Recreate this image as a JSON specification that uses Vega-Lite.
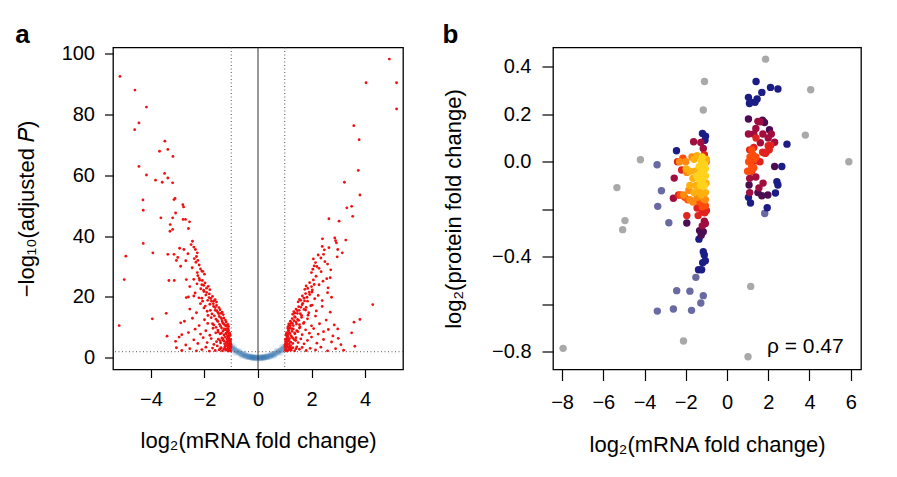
{
  "$schema": "https://vega.github.io/schema/vega-lite/v6.json",
  "padding": {"left": 14, "top": 20.5, "right": 5, "bottom": 5},
  "spacing": 36,
  "config": {
    "font": "Liberation Sans",
    "view": {"stroke": "black", "strokeWidth": 1.3},
    "axis": {"domain": false, "grid": false, "tickColor": "black", "tickWidth": 1.2, "labelFont": "Liberation Sans", "labelFontSize": 20, "labelColor": "black", "titleFont": "Liberation Sans", "titleFontSize": 22, "titleFontWeight": "normal", "titleColor": "black", "labelOverlap": false, "labelFlush": false},
    "title": {"anchor": "start", "fontSize": 26, "fontWeight": "bold", "font": "Liberation Sans", "color": "black"}
  },
  "hconcat": [
    {
      "width": 290, "height": 322,
      "title": {"text": "a", "offset": -4},
      "layer": [
        {
          "data": {"values": [
            {"x":-1.12,"y":4.6},{"x":-1.06,"y":4.0},{"x":-1.0,"y":3.5},{"x":-0.94,"y":3.0},{"x":-0.88,"y":2.6},{"x":-0.82,"y":2.2},{"x":-0.76,"y":1.8},{"x":-0.7,"y":1.5},{"x":-0.64,"y":1.2},{"x":-0.58,"y":1.0},{"x":-0.52,"y":0.8},{"x":-0.46,"y":0.6},{"x":-0.4,"y":0.45},{"x":-0.34,"y":0.3},{"x":-0.28,"y":0.2},{"x":-0.22,"y":0.12},{"x":-0.16,"y":0.06},{"x":-0.1,"y":0.03},{"x":-0.04,"y":0.01},
            {"x":0.04,"y":0.01},{"x":0.1,"y":0.03},{"x":0.16,"y":0.06},{"x":0.22,"y":0.12},{"x":0.28,"y":0.2},{"x":0.34,"y":0.3},{"x":0.4,"y":0.45},{"x":0.46,"y":0.6},{"x":0.52,"y":0.8},{"x":0.58,"y":1.0},{"x":0.64,"y":1.2},{"x":0.7,"y":1.5},{"x":0.76,"y":1.8},{"x":0.82,"y":2.2},{"x":0.88,"y":2.6},{"x":0.94,"y":3.0},{"x":1.0,"y":3.5},{"x":1.06,"y":4.0},{"x":1.12,"y":4.6},
            {"x":-1.09,"y":4.28},{"x":-1.03,"y":3.82},{"x":-0.97,"y":3.39},{"x":-0.91,"y":2.98},{"x":-0.85,"y":2.6},{"x":-0.79,"y":2.25},{"x":-0.73,"y":1.92},{"x":-0.67,"y":1.62},{"x":-0.61,"y":1.34},{"x":-0.55,"y":1.1},{"x":-0.49,"y":0.87},{"x":-0.43,"y":0.67},{"x":-0.37,"y":0.5},{"x":-0.31,"y":0.35},{"x":-0.25,"y":0.22},{"x":-0.19,"y":0.13},{"x":-0.13,"y":0.06},{"x":-0.07,"y":0.02},
            {"x":0.07,"y":0.02},{"x":0.13,"y":0.06},{"x":0.19,"y":0.13},{"x":0.25,"y":0.22},{"x":0.31,"y":0.35},{"x":0.37,"y":0.5},{"x":0.43,"y":0.67},{"x":0.49,"y":0.87},{"x":0.55,"y":1.1},{"x":0.61,"y":1.34},{"x":0.67,"y":1.62},{"x":0.73,"y":1.92},{"x":0.79,"y":2.25},{"x":0.85,"y":2.6},{"x":0.91,"y":2.98},{"x":0.97,"y":3.39},{"x":1.03,"y":3.82},{"x":1.09,"y":4.28},
            {"x":-0.3,"y":0.5},{"x":-0.2,"y":0.35},{"x":-0.1,"y":0.25},{"x":0.0,"y":0.2},{"x":0.1,"y":0.25},{"x":0.2,"y":0.35},{"x":0.3,"y":0.5},{"x":-0.25,"y":0.0},{"x":-0.12,"y":-0.2},{"x":0.0,"y":-0.3},{"x":0.12,"y":-0.2},{"x":0.25,"y":0.0},
            {"x":-0.2,"y":-0.1},{"x":-0.08,"y":-0.1},{"x":0.08,"y":-0.1},{"x":0.2,"y":-0.1},{"x":-0.35,"y":0.15},{"x":0.35,"y":0.15},{"x":-0.45,"y":0.3},{"x":0.45,"y":0.3},
            {"x":-0.5,"y":1.3},{"x":0.5,"y":1.3},{"x":-0.7,"y":2.3},{"x":0.7,"y":2.3},{"x":-0.9,"y":3.6},{"x":0.9,"y":3.6},{"x":-0.6,"y":0.6},{"x":0.6,"y":0.6},{"x":-0.85,"y":1.6},{"x":0.85,"y":1.6},{"x":-1.05,"y":2.8},{"x":1.05,"y":2.8}
          ]},
          "mark": {"type": "circle", "size": 36, "opacity": 0.16, "color": "#2a6db0"},
          "encoding": {
            "x": {"field": "x", "type": "quantitative", "scale": {"domain": [-5.42, 5.42], "nice": false, "zero": false},
                  "axis": {"values": [-4, -2, 0, 2, 4], "tickSize": 8, "labelPadding": 12, "titlePadding": 21, "title": "log₂(mRNA fold change)"}},
            "y": {"field": "y", "type": "quantitative", "scale": {"domain": [-3.85, 102], "nice": false, "zero": false},
                  "axis": {"values": [0, 20, 40, 60, 80, 100], "tickSize": 8.5, "labelPadding": 10, "titlePadding": 23, "title": "−log₁₀(adjusted 𝑃)"}}
          }
        },
        {
          "data": {"values": [{"x": -1}, {"x": 1}]},
          "mark": {"type": "rule", "color": "#555555", "strokeDash": [1, 2.5], "strokeWidth": 1},
          "encoding": {"x": {"field": "x", "type": "quantitative"}}
        },
        {
          "data": {"values": [{"y": 2}]},
          "mark": {"type": "rule", "color": "#555555", "strokeDash": [1, 2.5], "strokeWidth": 1},
          "encoding": {"y": {"field": "y", "type": "quantitative"}}
        },
        {
          "data": {"values": [{"x": 0}]},
          "mark": {"type": "rule", "color": "#333333", "strokeWidth": 1},
          "encoding": {"x": {"field": "x", "type": "quantitative"}}
        },
        {
          "data": {"values": [
            {"x":-1.02,"y":2.3},{"x":-1.04,"y":3.1},{"x":-1.06,"y":2.6},{"x":-1.08,"y":3.8},{"x":-1.1,"y":2.2},{"x":-1.12,"y":3.4},{"x":-1.15,"y":2.8},{"x":-1.18,"y":4.0},{"x":-1.2,"y":2.5},{"x":-1.24,"y":3.6},{"x":-1.28,"y":2.9},{"x":-1.33,"y":2.3},{"x":-1.38,"y":3.3},{"x":-1.45,"y":2.6},{"x":-1.52,"y":3.9},{"x":-1.6,"y":2.4},{"x":-1.7,"y":3.2},{"x":-1.82,"y":2.2},{"x":-1.95,"y":3.5},{"x":-2.1,"y":2.7},{"x":-2.3,"y":2.3},{"x":-2.55,"y":3.0},{"x":-2.85,"y":2.4},{"x":-3.05,"y":3.3},
            {"x":-1.01,"y":4.5},{"x":-1.03,"y":5.2},{"x":-1.05,"y":6.0},{"x":-1.07,"y":4.8},{"x":-1.09,"y":6.6},{"x":-1.11,"y":5.5},{"x":-1.13,"y":4.3},{"x":-1.16,"y":6.2},{"x":-1.19,"y":5.0},{"x":-1.22,"y":6.8},{"x":-1.25,"y":4.6},{"x":-1.3,"y":5.8},{"x":-1.35,"y":6.5},{"x":-1.4,"y":4.9},{"x":-1.48,"y":6.1},{"x":-1.55,"y":5.3},{"x":-1.65,"y":4.4},{"x":-1.75,"y":6.3},{"x":-1.9,"y":5.0},{"x":-2.05,"y":6.6},{"x":-2.25,"y":4.7},{"x":-2.4,"y":5.9},{"x":-2.7,"y":4.2},{"x":-3.08,"y":5.4},{"x":-3.4,"y":7.1},{"x":-2.95,"y":6.8},
            {"x":-1.04,"y":7.3},{"x":-1.06,"y":8.1},{"x":-1.08,"y":7.6},{"x":-1.1,"y":9.0},{"x":-1.12,"y":8.4},{"x":-1.14,"y":7.2},{"x":-1.17,"y":9.6},{"x":-1.2,"y":8.0},{"x":-1.23,"y":9.2},{"x":-1.27,"y":7.5},{"x":-1.31,"y":8.8},{"x":-1.36,"y":9.8},{"x":-1.42,"y":7.9},{"x":-1.5,"y":9.1},{"x":-1.58,"y":8.2},{"x":-1.68,"y":9.7},{"x":-1.8,"y":7.4},{"x":-1.95,"y":8.9},{"x":-2.15,"y":7.8},{"x":-2.35,"y":9.4},{"x":-2.6,"y":8.3},{"x":-2.85,"y":7.6},
            {"x":-1.1,"y":10.3},{"x":-1.13,"y":11.0},{"x":-1.16,"y":10.6},{"x":-1.19,"y":11.8},{"x":-1.22,"y":12.4},{"x":-1.25,"y":10.9},{"x":-1.28,"y":13.1},{"x":-1.32,"y":11.5},{"x":-1.36,"y":12.8},{"x":-1.4,"y":10.4},{"x":-1.45,"y":13.6},{"x":-1.5,"y":11.9},{"x":-1.57,"y":12.7},{"x":-1.65,"y":10.8},{"x":-1.75,"y":13.2},{"x":-1.88,"y":11.3},{"x":-2.0,"y":12.5},{"x":-2.2,"y":10.6},{"x":-2.45,"y":13.0},{"x":-2.89,"y":11.5},{"x":-2.75,"y":12.0},{"x":-3.95,"y":12.8},{"x":-5.19,"y":10.6},
            {"x":-1.3,"y":14.2},{"x":-1.34,"y":15.0},{"x":-1.38,"y":14.6},{"x":-1.42,"y":15.8},{"x":-1.46,"y":16.5},{"x":-1.5,"y":14.9},{"x":-1.55,"y":17.2},{"x":-1.6,"y":15.6},{"x":-1.66,"y":16.9},{"x":-1.72,"y":14.4},{"x":-1.8,"y":17.6},{"x":-1.9,"y":15.3},{"x":-2.02,"y":16.4},{"x":-2.15,"y":17.8},{"x":-2.3,"y":14.8},{"x":-2.55,"y":16.0},{"x":-3.43,"y":14.6},{"x":-2.07,"y":18.6},
            {"x":-1.55,"y":18.3},{"x":-1.6,"y":19.1},{"x":-1.65,"y":18.7},{"x":-1.7,"y":20.2},{"x":-1.76,"y":19.5},{"x":-1.82,"y":21.0},{"x":-1.88,"y":18.9},{"x":-1.95,"y":20.6},{"x":-2.02,"y":21.8},{"x":-2.1,"y":19.6},{"x":-2.21,"y":19.7},{"x":-2.35,"y":21.3},{"x":-2.4,"y":20.3},{"x":-2.6,"y":20.0},{"x":-2.68,"y":19.8},
            {"x":-1.8,"y":22.4},{"x":-1.86,"y":23.5},{"x":-1.92,"y":22.9},{"x":-1.98,"y":24.6},{"x":-2.03,"y":23.8},{"x":-2.08,"y":25.4},{"x":-2.14,"y":22.7},{"x":-2.2,"y":26.1},{"x":-2.28,"y":24.3},{"x":-2.4,"y":25.8},{"x":-2.68,"y":25.7},{"x":-3.13,"y":25.4},{"x":-3.33,"y":25.4},{"x":-5.0,"y":25.7},{"x":-2.55,"y":23.4},
            {"x":-2.0,"y":27.5},{"x":-2.06,"y":28.4},{"x":-2.1,"y":28.5},{"x":-2.15,"y":29.2},{"x":-2.2,"y":30.5},{"x":-2.27,"y":28.0},{"x":-2.32,"y":31.4},{"x":-2.46,"y":29.6},{"x":-2.89,"y":30.1},{"x":-2.7,"y":31.9},{"x":-2.38,"y":32.6},{"x":-2.25,"y":32.0},{"x":-3.0,"y":33.0},
            {"x":-2.27,"y":34.5},{"x":-2.3,"y":33.3},{"x":-2.34,"y":35.6},{"x":-2.4,"y":36.4},{"x":-2.45,"y":38.3},{"x":-2.5,"y":37.2},{"x":-2.77,"y":35.6},{"x":-2.93,"y":36.0},{"x":-3.14,"y":34.0},{"x":-3.37,"y":34.0},{"x":-3.93,"y":34.5},{"x":-4.94,"y":33.4},{"x":-4.29,"y":37.6},{"x":-2.62,"y":34.2},{"x":-3.05,"y":32.0},
            {"x":-3.29,"y":41.6},{"x":-3.19,"y":42.2},{"x":-3.28,"y":43.8},{"x":-2.56,"y":44.7},{"x":-2.71,"y":45.5},{"x":-2.8,"y":45.5},{"x":-3.08,"y":47.6},{"x":-3.19,"y":46.0},{"x":-3.63,"y":46.0},{"x":-4.29,"y":48.5},{"x":-2.78,"y":49.6},{"x":-2.81,"y":50.3},{"x":-3.1,"y":52.4},{"x":-3.14,"y":52.0},{"x":-4.3,"y":51.9},{"x":-2.6,"y":42.5},
            {"x":-3.19,"y":57.5},{"x":-3.37,"y":59.1},{"x":-3.58,"y":57.7},{"x":-3.83,"y":58.4},{"x":-3.49,"y":60.6},{"x":-4.17,"y":60.1},{"x":-4.45,"y":62.9},{"x":-3.18,"y":66.2},{"x":-3.37,"y":68.5},{"x":-3.68,"y":67.9},{"x":-3.48,"y":71.2},{"x":-4.61,"y":75.0},{"x":-4.45,"y":77.2},{"x":-4.17,"y":82.4},{"x":-4.6,"y":88.0},{"x":-5.16,"y":92.5},
            {"x":-1.01,"y":3.6},{"x":-1.03,"y":4.0},{"x":-1.05,"y":3.3},{"x":-1.07,"y":5.6},{"x":-1.09,"y":4.4},{"x":-1.11,"y":7.0},{"x":-1.13,"y":6.2},{"x":-1.15,"y":8.8},{"x":-1.17,"y":5.3},{"x":-1.19,"y":7.9},{"x":-1.21,"y":10.5},{"x":-1.23,"y":3.0},{"x":-1.26,"y":9.5},{"x":-1.29,"y":11.2},{"x":-1.31,"y":6.3},{"x":-1.34,"y":12.1},{"x":-1.37,"y":8.1},{"x":-1.39,"y":13.2},{"x":-1.41,"y":5.6},{"x":-1.44,"y":11.0},{"x":-1.47,"y":14.5},{"x":-1.49,"y":8.5},{"x":-1.52,"y":12.2},{"x":-1.54,"y":15.5},{"x":-1.57,"y":10.0},{"x":-1.6,"y":16.5},{"x":-1.63,"y":13.8},{"x":-1.67,"y":17.8},{"x":-1.7,"y":11.2},{"x":-1.74,"y":18.6},{"x":-1.78,"y":15.6},{"x":-1.83,"y":19.8},{"x":-1.87,"y":13.9},{"x":-1.92,"y":21.5},{"x":-1.97,"y":17.0},{"x":-2.03,"y":22.2},{"x":-2.1,"y":24.0},{"x":-2.18,"y":25.5},{"x":-2.25,"y":27.0},{"x":-1.14,"y":2.5},{"x":-1.22,"y":3.9},{"x":-1.42,"y":2.9},{"x":-1.16,"y":4.9},{"x":-1.27,"y":5.5},{"x":-1.02,"y":5.9},{"x":-1.05,"y":7.8},{"x":-1.12,"y":9.6},
            {"x":1.02,"y":2.4},{"x":1.04,"y":3.2},{"x":1.06,"y":2.7},{"x":1.08,"y":3.9},{"x":1.1,"y":2.2},{"x":1.13,"y":3.5},{"x":1.16,"y":2.9},{"x":1.2,"y":3.7},{"x":1.24,"y":2.5},{"x":1.3,"y":3.3},{"x":1.37,"y":2.3},{"x":1.45,"y":3.6},{"x":1.55,"y":2.8},{"x":1.65,"y":3.4},{"x":1.8,"y":2.4},{"x":1.95,"y":3.1},{"x":2.15,"y":2.6},{"x":2.35,"y":3.5},{"x":2.6,"y":2.3},{"x":2.9,"y":3.0},{"x":3.2,"y":2.5},{"x":3.62,"y":3.8},
            {"x":1.01,"y":4.4},{"x":1.03,"y":5.3},{"x":1.05,"y":6.1},{"x":1.07,"y":4.9},{"x":1.09,"y":6.7},{"x":1.12,"y":5.6},{"x":1.15,"y":4.5},{"x":1.18,"y":6.3},{"x":1.22,"y":5.1},{"x":1.26,"y":6.9},{"x":1.3,"y":4.7},{"x":1.36,"y":5.9},{"x":1.42,"y":6.6},{"x":1.5,"y":5.0},{"x":1.6,"y":6.2},{"x":1.72,"y":4.6},{"x":1.85,"y":5.7},{"x":2.0,"y":6.8},{"x":2.2,"y":4.8},{"x":2.45,"y":6.0},{"x":2.75,"y":5.2},{"x":3.1,"y":4.3},{"x":3.0,"y":6.4},
            {"x":1.05,"y":7.4},{"x":1.08,"y":8.3},{"x":1.1,"y":7.7},{"x":1.13,"y":9.1},{"x":1.16,"y":8.0},{"x":1.19,"y":9.7},{"x":1.23,"y":7.3},{"x":1.27,"y":8.7},{"x":1.32,"y":9.5},{"x":1.38,"y":7.9},{"x":1.45,"y":8.9},{"x":1.55,"y":9.8},{"x":1.65,"y":7.6},{"x":1.78,"y":9.2},{"x":1.92,"y":8.1},{"x":2.08,"y":9.6},{"x":2.25,"y":7.8},{"x":2.45,"y":8.6},{"x":2.63,"y":9.3},{"x":2.98,"y":9.5},{"x":3.5,"y":8.2},{"x":2.8,"y":7.2},
            {"x":1.12,"y":10.2},{"x":1.15,"y":11.1},{"x":1.18,"y":10.7},{"x":1.21,"y":12.0},{"x":1.24,"y":11.4},{"x":1.28,"y":12.9},{"x":1.32,"y":10.6},{"x":1.37,"y":13.5},{"x":1.42,"y":11.8},{"x":1.48,"y":12.6},{"x":1.55,"y":10.9},{"x":1.63,"y":13.3},{"x":1.72,"y":11.6},{"x":1.85,"y":12.8},{"x":2.0,"y":10.5},{"x":2.15,"y":13.7},{"x":2.3,"y":11.2},{"x":2.55,"y":12.4},{"x":3.59,"y":11.7},{"x":3.81,"y":12.6},{"x":2.85,"y":10.8},
            {"x":1.3,"y":14.3},{"x":1.34,"y":15.2},{"x":1.38,"y":14.7},{"x":1.42,"y":16.0},{"x":1.47,"y":15.5},{"x":1.52,"y":16.8},{"x":1.58,"y":14.5},{"x":1.65,"y":17.4},{"x":1.72,"y":15.9},{"x":1.8,"y":16.6},{"x":1.9,"y":14.8},{"x":2.02,"y":17.3},{"x":2.18,"y":15.4},{"x":2.4,"y":16.9},{"x":2.7,"y":15.0},{"x":4.29,"y":17.5},
            {"x":1.5,"y":18.4},{"x":1.55,"y":19.2},{"x":1.6,"y":18.9},{"x":1.66,"y":20.3},{"x":1.72,"y":19.6},{"x":1.78,"y":21.1},{"x":1.85,"y":18.6},{"x":1.93,"y":20.8},{"x":2.02,"y":21.6},{"x":2.12,"y":19.4},{"x":2.25,"y":20.5},{"x":2.4,"y":18.8},{"x":2.6,"y":21.4},{"x":2.75,"y":19.9},
            {"x":1.75,"y":22.5},{"x":1.8,"y":23.6},{"x":1.86,"y":22.8},{"x":1.93,"y":24.7},{"x":2.0,"y":23.4},{"x":2.07,"y":25.6},{"x":2.17,"y":26.8},{"x":2.28,"y":24.0},{"x":2.43,"y":25.2},{"x":2.57,"y":26.0},{"x":2.7,"y":26.3},{"x":2.62,"y":23.0},
            {"x":2.0,"y":28.0},{"x":2.05,"y":29.1},{"x":2.1,"y":30.2},{"x":2.2,"y":30.0},{"x":2.15,"y":31.3},{"x":2.07,"y":32.5},{"x":2.28,"y":29.4},{"x":2.36,"y":28.3},{"x":2.5,"y":31.6},{"x":2.6,"y":30.8},{"x":2.72,"y":28.9},{"x":2.35,"y":32.8},
            {"x":2.25,"y":33.8},{"x":2.45,"y":34.0},{"x":2.48,"y":35.5},{"x":2.4,"y":36.6},{"x":2.41,"y":39.1},{"x":2.96,"y":33.2},{"x":2.98,"y":35.6},{"x":2.9,"y":38.5},{"x":2.93,"y":37.8},{"x":2.87,"y":39.4},{"x":3.28,"y":38.7},{"x":2.65,"y":36.2},{"x":3.15,"y":34.5},
            {"x":2.65,"y":45.7},{"x":3.03,"y":44.9},{"x":3.54,"y":46.5},{"x":3.32,"y":49.3},{"x":3.5,"y":49.8},{"x":3.81,"y":53.5},{"x":3.23,"y":57.7},{"x":3.75,"y":61.6},{"x":3.78,"y":71.7},{"x":3.58,"y":76.3},{"x":5.18,"y":81.8},{"x":4.04,"y":90.4},{"x":5.18,"y":90.4},{"x":4.91,"y":98.2},
            {"x":1.01,"y":3.6},{"x":1.03,"y":4.1},{"x":1.05,"y":3.4},{"x":1.07,"y":5.7},{"x":1.09,"y":4.5},{"x":1.11,"y":7.1},{"x":1.13,"y":6.3},{"x":1.15,"y":8.9},{"x":1.17,"y":5.4},{"x":1.19,"y":8.0},{"x":1.21,"y":10.6},{"x":1.23,"y":3.1},{"x":1.26,"y":9.6},{"x":1.29,"y":11.3},{"x":1.31,"y":6.4},{"x":1.34,"y":12.2},{"x":1.37,"y":8.2},{"x":1.39,"y":13.3},{"x":1.41,"y":5.7},{"x":1.44,"y":11.1},{"x":1.47,"y":14.6},{"x":1.49,"y":8.6},{"x":1.52,"y":12.3},{"x":1.54,"y":15.6},{"x":1.57,"y":10.1},{"x":1.6,"y":16.6},{"x":1.63,"y":13.9},{"x":1.67,"y":17.9},{"x":1.7,"y":11.3},{"x":1.74,"y":18.7},{"x":1.78,"y":15.7},{"x":1.83,"y":19.9},{"x":1.87,"y":14.0},{"x":1.92,"y":21.6},{"x":1.97,"y":17.1},{"x":2.03,"y":22.3},{"x":2.1,"y":24.1},{"x":1.14,"y":2.6},{"x":1.22,"y":4.0},{"x":1.42,"y":3.0},{"x":1.02,"y":6.0},{"x":1.06,"y":7.9},{"x":1.12,"y":9.7}
          ]},
          "mark": {"type": "circle", "size": 8, "opacity": 1, "color": "#ee1111"},
          "encoding": {"x": {"field": "x", "type": "quantitative"}, "y": {"field": "y", "type": "quantitative"}}
        }
      ]
    },
    {
      "width": 308, "height": 322,
      "title": {"text": "b", "offset": 0},
      "layer": [
        {
          "data": {"values": [
            {"x":-7.95,"y":-0.786,"d":0},{"x":1.87,"y":0.432,"d":0},{"x":-1.09,"y":0.338,"d":0},{"x":-1.15,"y":0.218,"d":0},{"x":4.06,"y":0.303,"d":0},{"x":3.8,"y":0.112,"d":0},{"x":5.91,"y":0.0,"d":0},{"x":-4.2,"y":0.008,"d":0},{"x":-5.34,"y":-0.109,"d":0},{"x":-4.95,"y":-0.248,"d":0},{"x":-5.06,"y":-0.286,"d":0},{"x":1.15,"y":-0.525,"d":0},{"x":-2.11,"y":-0.755,"d":0},{"x":1.02,"y":-0.821,"d":0},
            {"x":-3.39,"y":-0.013,"d":1},{"x":-3.18,"y":-0.122,"d":1},{"x":-3.36,"y":-0.188,"d":1},{"x":-2.82,"y":-0.257,"d":1},{"x":-2.44,"y":-0.543,"d":1},{"x":-1.8,"y":-0.545,"d":1},{"x":-1.15,"y":-0.564,"d":1},{"x":-1.27,"y":-0.595,"d":1},{"x":-3.38,"y":-0.629,"d":1},{"x":-2.6,"y":-0.62,"d":1},{"x":-1.72,"y":-0.626,"d":1},{"x":1.83,"y":-0.218,"d":1},{"x":-1.51,"y":-0.487,"d":1},
            {"x":-2.45,"y":0.046,"d":2},{"x":-1.19,"y":0.119,"d":2},{"x":-1.04,"y":0.107,"d":2},{"x":-1.07,"y":0.09,"d":2},{"x":-1.36,"y":-0.326,"d":2},{"x":-1.15,"y":-0.379,"d":2},{"x":-1.1,"y":-0.393,"d":2},{"x":-1.18,"y":-0.425,"d":2},{"x":-1.05,"y":-0.417,"d":2},{"x":-1.38,"y":-0.455,"d":2},{"x":-1.23,"y":-0.455,"d":2},
            {"x":1.04,"y":0.271,"d":2},{"x":1.09,"y":0.245,"d":2},{"x":1.13,"y":0.252,"d":2},{"x":1.41,"y":0.338,"d":2},{"x":1.46,"y":0.264,"d":2},{"x":1.36,"y":0.25,"d":2},{"x":1.69,"y":0.292,"d":2},{"x":2.11,"y":0.313,"d":2},{"x":2.47,"y":0.306,"d":2},{"x":2.91,"y":0.074,"d":2},{"x":2.66,"y":-0.02,"d":2},{"x":2.42,"y":-0.084,"d":2},{"x":2.47,"y":-0.098,"d":2},{"x":2.35,"y":-0.132,"d":2},{"x":1.04,"y":-0.15,"d":2},{"x":1.14,"y":-0.174,"d":2},{"x":1.95,"y":-0.194,"d":2},
            {"x":-1.95,"y":-0.258,"d":3},{"x":-1.33,"y":-0.29,"d":3},{"x":-1.15,"y":-0.295,"d":3},{"x":-1.25,"y":-0.31,"d":3},{"x":1.04,"y":0.18,"d":3},{"x":2.31,"y":-0.02,"d":3},{"x":1.07,"y":-0.098,"d":3},{"x":1.98,"y":-0.14,"d":3},{"x":1.69,"y":-0.143,"d":3},{"x":1.5,"y":-0.13,"d":3},{"x":1.72,"y":0.175,"d":3},{"x":1.82,"y":0.165,"d":3},{"x":2.06,"y":0.135,"d":3},
            {"x":-1.62,"y":0.084,"d":4},{"x":-1.27,"y":0.081,"d":4},{"x":-1.15,"y":0.056,"d":4},{"x":-2.56,"y":-0.069,"d":4},{"x":-2.6,"y":-0.154,"d":4},{"x":-1.1,"y":-0.25,"d":4},{"x":-1.05,"y":-0.26,"d":4},{"x":-1.2,"y":-0.27,"d":4},
            {"x":1.5,"y":0.17,"d":4},{"x":1.6,"y":0.168,"d":4},{"x":1.4,"y":0.14,"d":4},{"x":1.04,"y":0.117,"d":4},{"x":1.3,"y":0.117,"d":4},{"x":1.74,"y":0.117,"d":4},{"x":2.15,"y":0.117,"d":4},{"x":2.31,"y":0.082,"d":4},{"x":1.62,"y":0.08,"d":4},{"x":1.1,"y":-0.07,"d":4},{"x":1.4,"y":-0.064,"d":4},{"x":1.1,"y":-0.13,"d":4},{"x":1.55,"y":-0.11,"d":4},{"x":2.0,"y":0.1,"d":4},{"x":1.75,"y":-0.09,"d":4},
            {"x":-2.4,"y":0.0,"d":5},{"x":-2.2,"y":-0.035,"d":5},{"x":-1.95,"y":-0.227,"d":5},{"x":-1.45,"y":-0.195,"d":5},{"x":-1.4,"y":-0.227,"d":5},{"x":-1.2,"y":-0.21,"d":5},{"x":-1.08,"y":-0.215,"d":5},{"x":-1.0,"y":-0.205,"d":5},{"x":-2.35,"y":-0.14,"d":5},{"x":-1.1,"y":0.03,"d":5},
            {"x":1.41,"y":0.1,"d":5},{"x":1.73,"y":0.04,"d":5},{"x":1.9,"y":0.04,"d":5},{"x":2.13,"y":0.07,"d":5},{"x":2.0,"y":0.067,"d":5},{"x":1.22,"y":0.0,"d":5},{"x":1.46,"y":0.004,"d":5},{"x":1.85,"y":0.035,"d":5},{"x":1.3,"y":0.06,"d":5},{"x":1.1,"y":0.05,"d":5},{"x":1.2,"y":-0.04,"d":5},{"x":1.6,"y":0.0,"d":5},{"x":2.05,"y":0.05,"d":5},
            {"x":-2.14,"y":0.015,"d":6},{"x":-2.25,"y":-0.14,"d":6},{"x":-2.05,"y":-0.15,"d":6},{"x":-1.9,"y":-0.16,"d":6},{"x":-1.45,"y":-0.165,"d":6},{"x":-1.25,"y":-0.175,"d":6},{"x":-1.2,"y":-0.19,"d":6},{"x":-1.05,"y":-0.185,"d":6},
            {"x":1.2,"y":0.05,"d":6},{"x":1.25,"y":0.03,"d":6},{"x":1.33,"y":0.01,"d":6},{"x":1.2,"y":-0.02,"d":6},{"x":1.0,"y":-0.04,"d":6},{"x":1.17,"y":-0.038,"d":6},{"x":1.3,"y":-0.025,"d":6},{"x":1.12,"y":0.02,"d":6},{"x":1.4,"y":0.02,"d":6},{"x":1.05,"y":0.0,"d":6},
            {"x":-2.3,"y":0.0,"d":7},{"x":-2.0,"y":0.0,"d":7},{"x":-1.95,"y":-0.045,"d":7},{"x":-2.1,"y":-0.14,"d":7},{"x":-1.8,"y":-0.16,"d":7},{"x":-1.65,"y":-0.17,"d":7},{"x":-1.45,"y":-0.15,"d":7},{"x":-1.85,"y":-0.12,"d":7},{"x":-1.7,"y":0.02,"d":7},{"x":-1.15,"y":-0.155,"d":7},{"x":-1.05,"y":-0.16,"d":7},{"x":-1.0,"y":0.0,"d":7},
            {"x":-1.98,"y":-0.031,"d":8},{"x":-1.6,"y":0.01,"d":8},{"x":-1.45,"y":0.025,"d":8},{"x":-1.55,"y":-0.04,"d":8},{"x":-1.65,"y":-0.07,"d":8},{"x":-1.8,"y":-0.1,"d":8},{"x":-1.5,"y":-0.1,"d":8},{"x":-1.35,"y":-0.12,"d":8},{"x":-1.6,"y":-0.13,"d":8},{"x":-1.25,"y":-0.14,"d":8},{"x":-1.05,"y":-0.13,"d":8},{"x":-1.0,"y":0.01,"d":8},{"x":-1.02,"y":-0.09,"d":8},{"x":-1.8,"y":-0.04,"d":8},
            {"x":-1.25,"y":0.0,"d":9},{"x":-1.1,"y":-0.01,"d":9},{"x":-1.15,"y":-0.04,"d":9},{"x":-1.3,"y":-0.05,"d":9},{"x":-1.05,"y":-0.06,"d":9},{"x":-1.2,"y":-0.08,"d":9},{"x":-1.4,"y":-0.07,"d":9},{"x":-1.1,"y":-0.1,"d":9},{"x":-1.28,"y":-0.1,"d":9},{"x":-1.45,"y":-0.06,"d":9},{"x":-1.2,"y":0.02,"d":9},{"x":-1.05,"y":-0.03,"d":9},{"x":-1.35,"y":-0.02,"d":9}
          ]},
          "mark": {"type": "circle", "size": 55, "opacity": 1},
          "encoding": {
            "x": {"field": "x", "type": "quantitative", "scale": {"domain": [-8.44, 6.5], "nice": false, "zero": false},
                  "axis": {"values": [-8, -6, -4, -2, 0, 2, 4, 6], "tickSize": 11, "labelPadding": 12, "titlePadding": 22, "title": "log₂(mRNA fold change)"}},
            "y": {"field": "y", "type": "quantitative", "scale": {"domain": [-0.875, 0.481], "nice": false, "zero": false},
                  "axis": {"values": [-0.8, -0.6, -0.4, -0.2, 0, 0.2, 0.4], "format": ".1f", "labelExpr": "abs(datum.value + 0.2) < 0.001 || abs(datum.value + 0.6) < 0.001 ? '' : datum.label", "tickSize": 11, "labelPadding": 11, "titlePadding": 26, "title": "log₂(protein fold change)"}},
            "color": {"field": "d", "type": "ordinal", "legend": null,
                      "scale": {"domain": [0, 1, 2, 3, 4, 5, 6, 7, 8, 9], "range": ["#a9a9a9", "#6a6aa2", "#1c1c86", "#4c0c54", "#a00d3e", "#e2221e", "#ff4c0c", "#ff8a10", "#ffb00e", "#ffd21c"]}}
          }
        },
        {
          "data": {"values": [{"x": 3.8, "y": -0.782, "t": "ρ = 0.47"}]},
          "mark": {"type": "text", "fontSize": 21, "font": "Liberation Sans", "align": "center", "baseline": "middle", "color": "black"},
          "encoding": {"x": {"field": "x", "type": "quantitative"}, "y": {"field": "y", "type": "quantitative"}, "text": {"field": "t"}}
        }
      ]
    }
  ]
}
